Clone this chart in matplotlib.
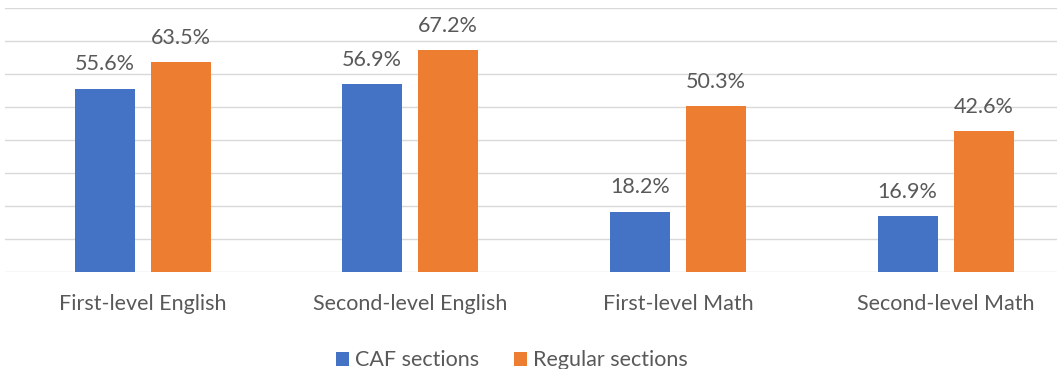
import matplotlib.pyplot as plt
import numpy as np

categories = ["First-level English", "Second-level English", "First-level Math", "Second-level Math"]
caf = [55.6, 56.9, 18.2, 16.9]
regular = [63.5, 67.2, 50.3, 42.6]
series_names = ["CAF sections", "Regular sections"]

blue = "#4472C4"
orange = "#ED7D31"
txt = "#595959"
plt.rcParams['font.family'] = ['Lato', 'DejaVu Sans']
fs = 15.5

fig = plt.figure(figsize=(10.63, 3.69), dpi=100)
ax = fig.add_axes([5 / 1063, 1 - 272 / 369, 1052 / 1063, 264 / 369])

x = np.arange(len(categories))
w = 0.224
off = 0.142
b1 = ax.bar(x - off, caf, w, color=blue, label=series_names[0], zorder=2)
b2 = ax.bar(x + off, regular, w, color=orange, label=series_names[1], zorder=2)

for bars, vals in [(b1, caf), (b2, regular)]:
    for r, v in zip(bars, vals):
        ax.text(r.get_x() + r.get_width() / 2, v + 5.6, "{:.1f}%".format(v),
                ha="center", va="baseline", fontsize=fs, color=txt)

ax.set_ylim(0, 80)
ax.set_xlim(-0.514, 3.416)
ax.set_yticks(np.arange(0, 81, 10))
ax.yaxis.grid(True, color="#D9D9D9", linewidth=1, zorder=0)
ax.set_yticklabels([])
ax.tick_params(axis="y", length=0)
ax.set_xticks(x)
ax.set_xticklabels(categories, fontsize=fs, color=txt)
ax.tick_params(axis="x", length=0, pad=16)
for s in ax.spines.values():
    s.set_visible(False)

ax.legend(loc="center", bbox_to_anchor=(0.482, -0.335), ncol=2, frameon=False,
          fontsize=fs, labelcolor=txt, handlelength=0.6, handleheight=0.6,
          handletextpad=0.3, columnspacing=1.6)

fig.savefig("out.png", dpi=100)
